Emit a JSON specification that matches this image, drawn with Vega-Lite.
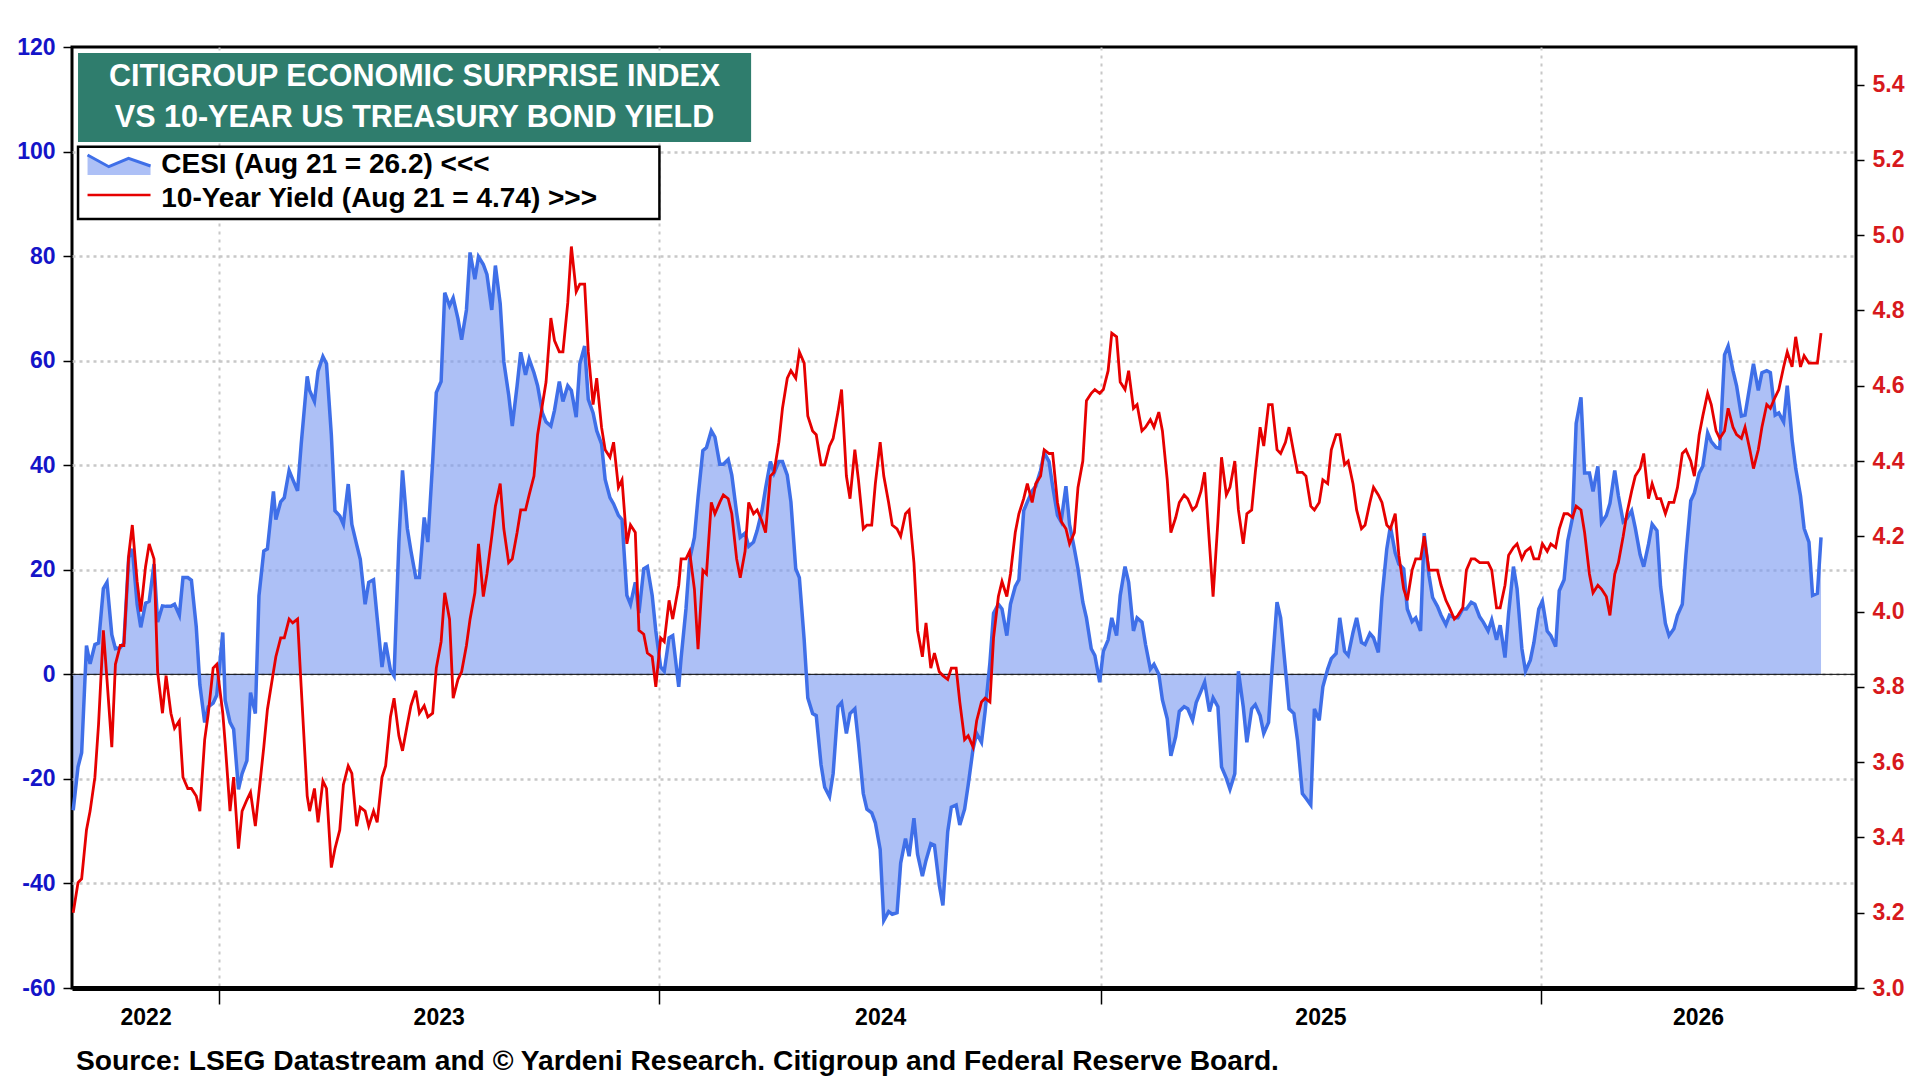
{
  "$schema": "https://vega.github.io/schema/vega-lite/v6.json",
  "width": 1784,
  "height": 941,
  "autosize": "none",
  "padding": {"left": 72, "top": 47, "right": 64, "bottom": 92},
  "background": "white",
  "title": {
    "text": "Source: LSEG Datastream and © Yardeni Research. Citigroup and Federal Reserve Board.",
    "orient": "bottom", "anchor": "start", "frame": "group",
    "font": "Liberation Sans", "fontSize": 28.2, "fontWeight": "bold", "color": "black",
    "offset": 19, "dx": 4
  },
  "data": {
    "format": {"parse": {"date": "date:'%Y-%m-%d'"}},
    "values": [
      {"date": "2022-09-02", "cesi": -26, "yield": 3.20},
      {"date": "2022-09-06", "cesi": -17.7, "yield": 3.28},
      {"date": "2022-09-09", "cesi": -15, "yield": 3.29},
      {"date": "2022-09-13", "cesi": 5.5, "yield": 3.42},
      {"date": "2022-09-16", "cesi": 2, "yield": 3.47},
      {"date": "2022-09-20", "cesi": 5.7, "yield": 3.56},
      {"date": "2022-09-23", "cesi": 6, "yield": 3.70},
      {"date": "2022-09-27", "cesi": 16.4, "yield": 3.95},
      {"date": "2022-09-30", "cesi": 17.6, "yield": 3.82},
      {"date": "2022-10-04", "cesi": 7.6, "yield": 3.64},
      {"date": "2022-10-07", "cesi": 4.9, "yield": 3.86},
      {"date": "2022-10-11", "cesi": 5.1, "yield": 3.91},
      {"date": "2022-10-14", "cesi": 6, "yield": 3.91},
      {"date": "2022-10-18", "cesi": 22.3, "yield": 4.15},
      {"date": "2022-10-21", "cesi": 24, "yield": 4.23},
      {"date": "2022-10-25", "cesi": 13.4, "yield": 4.08},
      {"date": "2022-10-28", "cesi": 9, "yield": 4.00},
      {"date": "2022-11-01", "cesi": 13.6, "yield": 4.12},
      {"date": "2022-11-04", "cesi": 14, "yield": 4.18},
      {"date": "2022-11-08", "cesi": 21.1, "yield": 4.14},
      {"date": "2022-11-11", "cesi": 10, "yield": 3.84},
      {"date": "2022-11-15", "cesi": 13.1, "yield": 3.73},
      {"date": "2022-11-18", "cesi": 13, "yield": 3.83},
      {"date": "2022-11-22", "cesi": 13, "yield": 3.73},
      {"date": "2022-11-25", "cesi": 13.4, "yield": 3.69},
      {"date": "2022-11-29", "cesi": 11.3, "yield": 3.71},
      {"date": "2022-12-02", "cesi": 18.5, "yield": 3.56},
      {"date": "2022-12-06", "cesi": 18.5, "yield": 3.53},
      {"date": "2022-12-09", "cesi": 18, "yield": 3.53},
      {"date": "2022-12-13", "cesi": 9.1, "yield": 3.51},
      {"date": "2022-12-16", "cesi": -2, "yield": 3.47},
      {"date": "2022-12-20", "cesi": -9.2, "yield": 3.66},
      {"date": "2022-12-23", "cesi": -6.2, "yield": 3.73},
      {"date": "2022-12-27", "cesi": -5.5, "yield": 3.85},
      {"date": "2022-12-30", "cesi": -4, "yield": 3.86},
      {"date": "2023-01-04", "cesi": 8, "yield": 3.73},
      {"date": "2023-01-06", "cesi": -5, "yield": 3.65},
      {"date": "2023-01-10", "cesi": -9.2, "yield": 3.47},
      {"date": "2023-01-13", "cesi": -10.5, "yield": 3.56},
      {"date": "2023-01-17", "cesi": -22, "yield": 3.37},
      {"date": "2023-01-20", "cesi": -19, "yield": 3.47},
      {"date": "2023-01-24", "cesi": -16.5, "yield": 3.50},
      {"date": "2023-01-27", "cesi": -3.5, "yield": 3.52},
      {"date": "2023-01-31", "cesi": -7.5, "yield": 3.43},
      {"date": "2023-02-03", "cesi": 15, "yield": 3.52},
      {"date": "2023-02-07", "cesi": 23.6, "yield": 3.64},
      {"date": "2023-02-10", "cesi": 24, "yield": 3.74},
      {"date": "2023-02-15", "cesi": 35, "yield": 3.84},
      {"date": "2023-02-17", "cesi": 29.6, "yield": 3.88},
      {"date": "2023-02-21", "cesi": 33, "yield": 3.93},
      {"date": "2023-02-24", "cesi": 33.8, "yield": 3.93},
      {"date": "2023-02-28", "cesi": 39, "yield": 3.98},
      {"date": "2023-03-03", "cesi": 37.3, "yield": 3.97},
      {"date": "2023-03-07", "cesi": 35.1, "yield": 3.98},
      {"date": "2023-03-10", "cesi": 44, "yield": 3.80},
      {"date": "2023-03-15", "cesi": 57, "yield": 3.51},
      {"date": "2023-03-17", "cesi": 54.3, "yield": 3.47},
      {"date": "2023-03-21", "cesi": 52.2, "yield": 3.53},
      {"date": "2023-03-24", "cesi": 58, "yield": 3.44},
      {"date": "2023-03-28", "cesi": 60.8, "yield": 3.55},
      {"date": "2023-03-31", "cesi": 59.4, "yield": 3.53},
      {"date": "2023-04-04", "cesi": 45.8, "yield": 3.32},
      {"date": "2023-04-07", "cesi": 31.3, "yield": 3.37},
      {"date": "2023-04-11", "cesi": 30.3, "yield": 3.42},
      {"date": "2023-04-14", "cesi": 28.7, "yield": 3.54},
      {"date": "2023-04-18", "cesi": 36.4, "yield": 3.59},
      {"date": "2023-04-21", "cesi": 28.7, "yield": 3.57},
      {"date": "2023-04-25", "cesi": 24.8, "yield": 3.43},
      {"date": "2023-04-28", "cesi": 22, "yield": 3.48},
      {"date": "2023-05-02", "cesi": 13.4, "yield": 3.47},
      {"date": "2023-05-05", "cesi": 17.6, "yield": 3.43},
      {"date": "2023-05-09", "cesi": 18.1, "yield": 3.47},
      {"date": "2023-05-12", "cesi": 10.8, "yield": 3.44},
      {"date": "2023-05-16", "cesi": 1.4, "yield": 3.56},
      {"date": "2023-05-19", "cesi": 6.1, "yield": 3.59},
      {"date": "2023-05-23", "cesi": 0.8, "yield": 3.72},
      {"date": "2023-05-26", "cesi": -0.3, "yield": 3.77},
      {"date": "2023-05-30", "cesi": 25.3, "yield": 3.67},
      {"date": "2023-06-02", "cesi": 39, "yield": 3.63},
      {"date": "2023-06-06", "cesi": 27.9, "yield": 3.70},
      {"date": "2023-06-09", "cesi": 23.6, "yield": 3.75},
      {"date": "2023-06-13", "cesi": 18.5, "yield": 3.79},
      {"date": "2023-06-16", "cesi": 18.5, "yield": 3.73},
      {"date": "2023-06-20", "cesi": 30, "yield": 3.75},
      {"date": "2023-06-23", "cesi": 25.3, "yield": 3.72},
      {"date": "2023-06-27", "cesi": 40.7, "yield": 3.73},
      {"date": "2023-06-30", "cesi": 53.9, "yield": 3.85},
      {"date": "2023-07-04", "cesi": 56, "yield": 3.92},
      {"date": "2023-07-07", "cesi": 73, "yield": 4.05},
      {"date": "2023-07-11", "cesi": 70.5, "yield": 3.98},
      {"date": "2023-07-14", "cesi": 72, "yield": 3.77},
      {"date": "2023-07-18", "cesi": 68, "yield": 3.82},
      {"date": "2023-07-21", "cesi": 64, "yield": 3.84},
      {"date": "2023-07-25", "cesi": 69.7, "yield": 3.91},
      {"date": "2023-07-28", "cesi": 80.7, "yield": 3.98},
      {"date": "2023-08-01", "cesi": 75.6, "yield": 4.05},
      {"date": "2023-08-04", "cesi": 79.9, "yield": 4.18},
      {"date": "2023-08-08", "cesi": 78.4, "yield": 4.04},
      {"date": "2023-08-11", "cesi": 76.5, "yield": 4.10},
      {"date": "2023-08-15", "cesi": 69.7, "yield": 4.20},
      {"date": "2023-08-18", "cesi": 78.2, "yield": 4.28},
      {"date": "2023-08-22", "cesi": 70.9, "yield": 4.34},
      {"date": "2023-08-25", "cesi": 59.8, "yield": 4.22},
      {"date": "2023-08-29", "cesi": 53.5, "yield": 4.13},
      {"date": "2023-09-01", "cesi": 47.5, "yield": 4.14},
      {"date": "2023-09-05", "cesi": 55.2, "yield": 4.21},
      {"date": "2023-09-08", "cesi": 61.6, "yield": 4.27},
      {"date": "2023-09-12", "cesi": 57.3, "yield": 4.27},
      {"date": "2023-09-15", "cesi": 60.3, "yield": 4.31},
      {"date": "2023-09-19", "cesi": 57.7, "yield": 4.36},
      {"date": "2023-09-22", "cesi": 55.2, "yield": 4.47},
      {"date": "2023-09-26", "cesi": 50, "yield": 4.55},
      {"date": "2023-09-29", "cesi": 48.3, "yield": 4.61},
      {"date": "2023-10-03", "cesi": 47.5, "yield": 4.78},
      {"date": "2023-10-06", "cesi": 50.5, "yield": 4.72},
      {"date": "2023-10-10", "cesi": 56, "yield": 4.69},
      {"date": "2023-10-13", "cesi": 52.2, "yield": 4.69},
      {"date": "2023-10-17", "cesi": 55.2, "yield": 4.82},
      {"date": "2023-10-20", "cesi": 54.3, "yield": 4.97},
      {"date": "2023-10-24", "cesi": 49.2, "yield": 4.85},
      {"date": "2023-10-27", "cesi": 59.4, "yield": 4.87},
      {"date": "2023-10-31", "cesi": 62.8, "yield": 4.87},
      {"date": "2023-11-03", "cesi": 52.6, "yield": 4.69},
      {"date": "2023-11-07", "cesi": 50, "yield": 4.55},
      {"date": "2023-11-10", "cesi": 46.6, "yield": 4.62},
      {"date": "2023-11-14", "cesi": 44.1, "yield": 4.49},
      {"date": "2023-11-17", "cesi": 37.3, "yield": 4.43},
      {"date": "2023-11-21", "cesi": 33.8, "yield": 4.41},
      {"date": "2023-11-24", "cesi": 32.6, "yield": 4.45},
      {"date": "2023-11-28", "cesi": 30.4, "yield": 4.33},
      {"date": "2023-12-01", "cesi": 29.6, "yield": 4.35},
      {"date": "2023-12-05", "cesi": 15.1, "yield": 4.18},
      {"date": "2023-12-08", "cesi": 13.4, "yield": 4.23},
      {"date": "2023-12-12", "cesi": 17.6, "yield": 4.21},
      {"date": "2023-12-15", "cesi": 11.7, "yield": 3.95},
      {"date": "2023-12-19", "cesi": 20.2, "yield": 3.94},
      {"date": "2023-12-22", "cesi": 20.6, "yield": 3.89},
      {"date": "2023-12-26", "cesi": 15.1, "yield": 3.88},
      {"date": "2023-12-29", "cesi": 8.3, "yield": 3.80},
      {"date": "2024-01-02", "cesi": 1.4, "yield": 3.93},
      {"date": "2024-01-05", "cesi": 0.6, "yield": 3.92},
      {"date": "2024-01-09", "cesi": 7, "yield": 4.03},
      {"date": "2024-01-12", "cesi": 7.4, "yield": 3.98},
      {"date": "2024-01-17", "cesi": -2.4, "yield": 4.07},
      {"date": "2024-01-19", "cesi": 3.2, "yield": 4.14},
      {"date": "2024-01-23", "cesi": 12.5, "yield": 4.14},
      {"date": "2024-01-26", "cesi": 21.9, "yield": 4.16},
      {"date": "2024-01-30", "cesi": 26.2, "yield": 4.06},
      {"date": "2024-02-02", "cesi": 33.8, "yield": 3.90},
      {"date": "2024-02-06", "cesi": 42.8, "yield": 4.11},
      {"date": "2024-02-09", "cesi": 43.4, "yield": 4.10},
      {"date": "2024-02-13", "cesi": 46.6, "yield": 4.29},
      {"date": "2024-02-16", "cesi": 45.4, "yield": 4.26},
      {"date": "2024-02-20", "cesi": 40.2, "yield": 4.29},
      {"date": "2024-02-23", "cesi": 40.2, "yield": 4.31},
      {"date": "2024-02-27", "cesi": 41.1, "yield": 4.30},
      {"date": "2024-03-01", "cesi": 38.1, "yield": 4.26},
      {"date": "2024-03-05", "cesi": 30.9, "yield": 4.14},
      {"date": "2024-03-08", "cesi": 26.2, "yield": 4.09},
      {"date": "2024-03-12", "cesi": 27, "yield": 4.16},
      {"date": "2024-03-15", "cesi": 24.5, "yield": 4.29},
      {"date": "2024-03-19", "cesi": 25.3, "yield": 4.26},
      {"date": "2024-03-22", "cesi": 27.5, "yield": 4.27},
      {"date": "2024-03-26", "cesi": 31.3, "yield": 4.24},
      {"date": "2024-03-29", "cesi": 35.6, "yield": 4.21},
      {"date": "2024-04-02", "cesi": 40.7, "yield": 4.36},
      {"date": "2024-04-05", "cesi": 38.5, "yield": 4.37},
      {"date": "2024-04-09", "cesi": 40.7, "yield": 4.45},
      {"date": "2024-04-12", "cesi": 40.7, "yield": 4.54},
      {"date": "2024-04-16", "cesi": 38.1, "yield": 4.62},
      {"date": "2024-04-19", "cesi": 33, "yield": 4.64},
      {"date": "2024-04-23", "cesi": 20.2, "yield": 4.62},
      {"date": "2024-04-26", "cesi": 18.5, "yield": 4.69},
      {"date": "2024-04-30", "cesi": 6.6, "yield": 4.66},
      {"date": "2024-05-03", "cesi": -4.5, "yield": 4.52},
      {"date": "2024-05-07", "cesi": -7.5, "yield": 4.48},
      {"date": "2024-05-10", "cesi": -7.9, "yield": 4.47},
      {"date": "2024-05-14", "cesi": -17.3, "yield": 4.39},
      {"date": "2024-05-17", "cesi": -21.6, "yield": 4.39},
      {"date": "2024-05-21", "cesi": -23.4, "yield": 4.44},
      {"date": "2024-05-24", "cesi": -19, "yield": 4.46},
      {"date": "2024-05-28", "cesi": -6.2, "yield": 4.53},
      {"date": "2024-05-31", "cesi": -5.4, "yield": 4.59},
      {"date": "2024-06-04", "cesi": -11.3, "yield": 4.36},
      {"date": "2024-06-07", "cesi": -7.5, "yield": 4.30},
      {"date": "2024-06-11", "cesi": -6.6, "yield": 4.43},
      {"date": "2024-06-14", "cesi": -13, "yield": 4.35},
      {"date": "2024-06-18", "cesi": -22.8, "yield": 4.22},
      {"date": "2024-06-21", "cesi": -25.8, "yield": 4.23},
      {"date": "2024-06-25", "cesi": -26.5, "yield": 4.23},
      {"date": "2024-06-28", "cesi": -28.4, "yield": 4.34},
      {"date": "2024-07-02", "cesi": -33.5, "yield": 4.45},
      {"date": "2024-07-05", "cesi": -47.1, "yield": 4.36},
      {"date": "2024-07-09", "cesi": -45.4, "yield": 4.29},
      {"date": "2024-07-12", "cesi": -45.9, "yield": 4.23},
      {"date": "2024-07-16", "cesi": -45.6, "yield": 4.22},
      {"date": "2024-07-19", "cesi": -36.1, "yield": 4.20},
      {"date": "2024-07-23", "cesi": -31.4, "yield": 4.26},
      {"date": "2024-07-26", "cesi": -34.8, "yield": 4.27},
      {"date": "2024-07-30", "cesi": -27.5, "yield": 4.13},
      {"date": "2024-08-02", "cesi": -34.4, "yield": 3.95},
      {"date": "2024-08-06", "cesi": -38.6, "yield": 3.88},
      {"date": "2024-08-09", "cesi": -35.6, "yield": 3.97},
      {"date": "2024-08-13", "cesi": -32.4, "yield": 3.85},
      {"date": "2024-08-16", "cesi": -32.7, "yield": 3.89},
      {"date": "2024-08-20", "cesi": -40.3, "yield": 3.84},
      {"date": "2024-08-23", "cesi": -44.2, "yield": 3.83},
      {"date": "2024-08-27", "cesi": -30.1, "yield": 3.82},
      {"date": "2024-08-30", "cesi": -25.4, "yield": 3.85},
      {"date": "2024-09-03", "cesi": -25, "yield": 3.85},
      {"date": "2024-09-06", "cesi": -28.8, "yield": 3.76},
      {"date": "2024-09-10", "cesi": -25.8, "yield": 3.66},
      {"date": "2024-09-13", "cesi": -21.1, "yield": 3.67},
      {"date": "2024-09-17", "cesi": -14.3, "yield": 3.64},
      {"date": "2024-09-20", "cesi": -11.3, "yield": 3.71},
      {"date": "2024-09-24", "cesi": -13, "yield": 3.76},
      {"date": "2024-09-27", "cesi": -7.1, "yield": 3.77},
      {"date": "2024-10-01", "cesi": 2.3, "yield": 3.76},
      {"date": "2024-10-04", "cesi": 11.7, "yield": 3.93},
      {"date": "2024-10-08", "cesi": 13.4, "yield": 4.04},
      {"date": "2024-10-11", "cesi": 12.5, "yield": 4.08},
      {"date": "2024-10-15", "cesi": 7.4, "yield": 4.04},
      {"date": "2024-10-18", "cesi": 13.4, "yield": 4.10},
      {"date": "2024-10-22", "cesi": 16.8, "yield": 4.21},
      {"date": "2024-10-25", "cesi": 18.1, "yield": 4.26},
      {"date": "2024-10-29", "cesi": 31.3, "yield": 4.30},
      {"date": "2024-11-01", "cesi": 33, "yield": 4.34},
      {"date": "2024-11-05", "cesi": 35.1, "yield": 4.29},
      {"date": "2024-11-08", "cesi": 36, "yield": 4.34},
      {"date": "2024-11-12", "cesi": 39, "yield": 4.36},
      {"date": "2024-11-15", "cesi": 42.4, "yield": 4.43},
      {"date": "2024-11-19", "cesi": 40.7, "yield": 4.42},
      {"date": "2024-11-22", "cesi": 36, "yield": 4.42},
      {"date": "2024-11-26", "cesi": 30.4, "yield": 4.29},
      {"date": "2024-11-29", "cesi": 29.2, "yield": 4.24},
      {"date": "2024-12-03", "cesi": 36, "yield": 4.22},
      {"date": "2024-12-06", "cesi": 28.7, "yield": 4.18},
      {"date": "2024-12-10", "cesi": 24, "yield": 4.21},
      {"date": "2024-12-13", "cesi": 20.2, "yield": 4.33},
      {"date": "2024-12-17", "cesi": 13.8, "yield": 4.40},
      {"date": "2024-12-20", "cesi": 10.8, "yield": 4.56},
      {"date": "2024-12-24", "cesi": 4.9, "yield": 4.58},
      {"date": "2024-12-27", "cesi": 3.6, "yield": 4.59},
      {"date": "2024-12-31", "cesi": -1.5, "yield": 4.58},
      {"date": "2025-01-03", "cesi": 4.4, "yield": 4.59},
      {"date": "2025-01-07", "cesi": 6.6, "yield": 4.64},
      {"date": "2025-01-10", "cesi": 10.8, "yield": 4.74},
      {"date": "2025-01-14", "cesi": 7.4, "yield": 4.73},
      {"date": "2025-01-17", "cesi": 15.1, "yield": 4.61},
      {"date": "2025-01-21", "cesi": 20.6, "yield": 4.59},
      {"date": "2025-01-24", "cesi": 17.6, "yield": 4.64},
      {"date": "2025-01-28", "cesi": 8.3, "yield": 4.54},
      {"date": "2025-01-31", "cesi": 10.8, "yield": 4.55},
      {"date": "2025-02-04", "cesi": 10, "yield": 4.48},
      {"date": "2025-02-07", "cesi": 5.7, "yield": 4.49},
      {"date": "2025-02-11", "cesi": 1, "yield": 4.51},
      {"date": "2025-02-14", "cesi": 1.9, "yield": 4.49},
      {"date": "2025-02-18", "cesi": 0, "yield": 4.53},
      {"date": "2025-02-21", "cesi": -4.9, "yield": 4.48},
      {"date": "2025-02-25", "cesi": -8.5, "yield": 4.35},
      {"date": "2025-02-28", "cesi": -15.6, "yield": 4.21},
      {"date": "2025-03-04", "cesi": -11.9, "yield": 4.25},
      {"date": "2025-03-07", "cesi": -7.1, "yield": 4.29},
      {"date": "2025-03-11", "cesi": -6.2, "yield": 4.31},
      {"date": "2025-03-14", "cesi": -6.6, "yield": 4.30},
      {"date": "2025-03-18", "cesi": -8.8, "yield": 4.27},
      {"date": "2025-03-21", "cesi": -5.4, "yield": 4.28},
      {"date": "2025-03-25", "cesi": -3.2, "yield": 4.32},
      {"date": "2025-03-28", "cesi": -1.5, "yield": 4.37},
      {"date": "2025-04-01", "cesi": -7.1, "yield": 4.18},
      {"date": "2025-04-04", "cesi": -4.5, "yield": 4.04},
      {"date": "2025-04-08", "cesi": -6.2, "yield": 4.24},
      {"date": "2025-04-11", "cesi": -17.7, "yield": 4.41},
      {"date": "2025-04-15", "cesi": -19.9, "yield": 4.31},
      {"date": "2025-04-18", "cesi": -22, "yield": 4.33},
      {"date": "2025-04-22", "cesi": -19, "yield": 4.40},
      {"date": "2025-04-25", "cesi": 0.6, "yield": 4.27},
      {"date": "2025-04-29", "cesi": -6.2, "yield": 4.18},
      {"date": "2025-05-02", "cesi": -13, "yield": 4.26},
      {"date": "2025-05-06", "cesi": -6.6, "yield": 4.27},
      {"date": "2025-05-09", "cesi": -5.8, "yield": 4.37},
      {"date": "2025-05-13", "cesi": -7.9, "yield": 4.49},
      {"date": "2025-05-16", "cesi": -11.3, "yield": 4.44},
      {"date": "2025-05-20", "cesi": -9.2, "yield": 4.55},
      {"date": "2025-05-23", "cesi": 1.4, "yield": 4.55},
      {"date": "2025-05-27", "cesi": 13.8, "yield": 4.43},
      {"date": "2025-05-30", "cesi": 10.8, "yield": 4.42},
      {"date": "2025-06-03", "cesi": 1, "yield": 4.45},
      {"date": "2025-06-06", "cesi": -6.6, "yield": 4.49},
      {"date": "2025-06-10", "cesi": -7.5, "yield": 4.42},
      {"date": "2025-06-13", "cesi": -12.6, "yield": 4.37},
      {"date": "2025-06-17", "cesi": -22.8, "yield": 4.37},
      {"date": "2025-06-20", "cesi": -23.7, "yield": 4.36},
      {"date": "2025-06-24", "cesi": -25, "yield": 4.28},
      {"date": "2025-06-27", "cesi": -6.6, "yield": 4.27},
      {"date": "2025-07-01", "cesi": -8.8, "yield": 4.29},
      {"date": "2025-07-04", "cesi": -2.4, "yield": 4.35},
      {"date": "2025-07-08", "cesi": 1, "yield": 4.34},
      {"date": "2025-07-11", "cesi": 3, "yield": 4.43},
      {"date": "2025-07-15", "cesi": 4, "yield": 4.47},
      {"date": "2025-07-18", "cesi": 10.8, "yield": 4.47},
      {"date": "2025-07-22", "cesi": 4.4, "yield": 4.39},
      {"date": "2025-07-25", "cesi": 3.6, "yield": 4.40},
      {"date": "2025-07-29", "cesi": 8, "yield": 4.34},
      {"date": "2025-08-01", "cesi": 10.8, "yield": 4.27},
      {"date": "2025-08-05", "cesi": 6.1, "yield": 4.22},
      {"date": "2025-08-08", "cesi": 5.7, "yield": 4.23},
      {"date": "2025-08-12", "cesi": 7.8, "yield": 4.29},
      {"date": "2025-08-15", "cesi": 7, "yield": 4.33},
      {"date": "2025-08-19", "cesi": 4.2, "yield": 4.31},
      {"date": "2025-08-22", "cesi": 14.7, "yield": 4.29},
      {"date": "2025-08-26", "cesi": 24, "yield": 4.23},
      {"date": "2025-08-29", "cesi": 28.3, "yield": 4.22},
      {"date": "2025-09-02", "cesi": 23.2, "yield": 4.26},
      {"date": "2025-09-05", "cesi": 21.1, "yield": 4.15},
      {"date": "2025-09-09", "cesi": 20.2, "yield": 4.06},
      {"date": "2025-09-12", "cesi": 12.5, "yield": 4.03},
      {"date": "2025-09-16", "cesi": 10.1, "yield": 4.11},
      {"date": "2025-09-19", "cesi": 10.8, "yield": 4.14},
      {"date": "2025-09-23", "cesi": 8.3, "yield": 4.14},
      {"date": "2025-09-26", "cesi": 27, "yield": 4.20},
      {"date": "2025-09-30", "cesi": 18.9, "yield": 4.11},
      {"date": "2025-10-03", "cesi": 14.7, "yield": 4.11},
      {"date": "2025-10-07", "cesi": 13, "yield": 4.11},
      {"date": "2025-10-10", "cesi": 11.3, "yield": 4.07},
      {"date": "2025-10-14", "cesi": 9.5, "yield": 4.03},
      {"date": "2025-10-17", "cesi": 11.3, "yield": 4.01},
      {"date": "2025-10-21", "cesi": 10.8, "yield": 3.98},
      {"date": "2025-10-24", "cesi": 10.8, "yield": 3.99},
      {"date": "2025-10-28", "cesi": 12.5, "yield": 4.01},
      {"date": "2025-10-31", "cesi": 12.5, "yield": 4.11},
      {"date": "2025-11-04", "cesi": 13.8, "yield": 4.14},
      {"date": "2025-11-07", "cesi": 13.4, "yield": 4.14},
      {"date": "2025-11-11", "cesi": 11, "yield": 4.13},
      {"date": "2025-11-14", "cesi": 10, "yield": 4.13},
      {"date": "2025-11-18", "cesi": 8.3, "yield": 4.13},
      {"date": "2025-11-21", "cesi": 10.4, "yield": 4.11},
      {"date": "2025-11-25", "cesi": 6.6, "yield": 4.01},
      {"date": "2025-11-28", "cesi": 9.4, "yield": 4.01},
      {"date": "2025-12-02", "cesi": 3.2, "yield": 4.07},
      {"date": "2025-12-05", "cesi": 11.7, "yield": 4.15},
      {"date": "2025-12-09", "cesi": 20.6, "yield": 4.17},
      {"date": "2025-12-12", "cesi": 16.4, "yield": 4.18},
      {"date": "2025-12-16", "cesi": 4.9, "yield": 4.14},
      {"date": "2025-12-19", "cesi": 0.6, "yield": 4.16},
      {"date": "2025-12-23", "cesi": 2.7, "yield": 4.17},
      {"date": "2025-12-26", "cesi": 6.1, "yield": 4.14},
      {"date": "2025-12-30", "cesi": 12.5, "yield": 4.14},
      {"date": "2026-01-02", "cesi": 14, "yield": 4.18},
      {"date": "2026-01-06", "cesi": 8.3, "yield": 4.16},
      {"date": "2026-01-09", "cesi": 7.4, "yield": 4.18},
      {"date": "2026-01-13", "cesi": 5.3, "yield": 4.17},
      {"date": "2026-01-16", "cesi": 16, "yield": 4.22},
      {"date": "2026-01-20", "cesi": 18.1, "yield": 4.26},
      {"date": "2026-01-23", "cesi": 25.5, "yield": 4.26},
      {"date": "2026-01-27", "cesi": 30, "yield": 4.25},
      {"date": "2026-01-30", "cesi": 48, "yield": 4.28},
      {"date": "2026-02-03", "cesi": 53, "yield": 4.27},
      {"date": "2026-02-06", "cesi": 38.5, "yield": 4.21},
      {"date": "2026-02-10", "cesi": 38.5, "yield": 4.10},
      {"date": "2026-02-13", "cesi": 35, "yield": 4.05},
      {"date": "2026-02-17", "cesi": 39.8, "yield": 4.07},
      {"date": "2026-02-20", "cesi": 29, "yield": 4.06},
      {"date": "2026-02-24", "cesi": 30.4, "yield": 4.04},
      {"date": "2026-02-27", "cesi": 32.7, "yield": 3.99},
      {"date": "2026-03-03", "cesi": 39, "yield": 4.10},
      {"date": "2026-03-06", "cesi": 34.2, "yield": 4.13},
      {"date": "2026-03-10", "cesi": 29.2, "yield": 4.20},
      {"date": "2026-03-13", "cesi": 29.8, "yield": 4.26},
      {"date": "2026-03-17", "cesi": 31.3, "yield": 4.32},
      {"date": "2026-03-20", "cesi": 28, "yield": 4.36},
      {"date": "2026-03-24", "cesi": 22.9, "yield": 4.38},
      {"date": "2026-03-27", "cesi": 20.6, "yield": 4.42},
      {"date": "2026-03-31", "cesi": 24.9, "yield": 4.30},
      {"date": "2026-04-03", "cesi": 28.7, "yield": 4.34},
      {"date": "2026-04-07", "cesi": 27.5, "yield": 4.30},
      {"date": "2026-04-10", "cesi": 16.8, "yield": 4.30},
      {"date": "2026-04-14", "cesi": 9.7, "yield": 4.26},
      {"date": "2026-04-17", "cesi": 7.4, "yield": 4.29},
      {"date": "2026-04-21", "cesi": 8.7, "yield": 4.29},
      {"date": "2026-04-24", "cesi": 11.3, "yield": 4.33},
      {"date": "2026-04-28", "cesi": 13.4, "yield": 4.42},
      {"date": "2026-05-01", "cesi": 22.8, "yield": 4.43},
      {"date": "2026-05-05", "cesi": 33.2, "yield": 4.40},
      {"date": "2026-05-08", "cesi": 34.7, "yield": 4.36},
      {"date": "2026-05-12", "cesi": 38.5, "yield": 4.47},
      {"date": "2026-05-15", "cesi": 39.8, "yield": 4.52},
      {"date": "2026-05-19", "cesi": 46.2, "yield": 4.58},
      {"date": "2026-05-22", "cesi": 44.5, "yield": 4.55},
      {"date": "2026-05-26", "cesi": 43.4, "yield": 4.48},
      {"date": "2026-05-29", "cesi": 43.2, "yield": 4.46},
      {"date": "2026-06-02", "cesi": 61.1, "yield": 4.48},
      {"date": "2026-06-05", "cesi": 62.8, "yield": 4.54},
      {"date": "2026-06-09", "cesi": 58.1, "yield": 4.49},
      {"date": "2026-06-12", "cesi": 55.2, "yield": 4.47},
      {"date": "2026-06-16", "cesi": 49.4, "yield": 4.46},
      {"date": "2026-06-19", "cesi": 49.6, "yield": 4.49},
      {"date": "2026-06-23", "cesi": 55.2, "yield": 4.43},
      {"date": "2026-06-26", "cesi": 59.4, "yield": 4.38},
      {"date": "2026-06-30", "cesi": 54.3, "yield": 4.43},
      {"date": "2026-07-03", "cesi": 57.7, "yield": 4.49},
      {"date": "2026-07-07", "cesi": 58.1, "yield": 4.55},
      {"date": "2026-07-10", "cesi": 57.7, "yield": 4.54},
      {"date": "2026-07-14", "cesi": 49.6, "yield": 4.57},
      {"date": "2026-07-17", "cesi": 50, "yield": 4.59},
      {"date": "2026-07-21", "cesi": 48.3, "yield": 4.65},
      {"date": "2026-07-24", "cesi": 55.2, "yield": 4.69},
      {"date": "2026-07-28", "cesi": 44.9, "yield": 4.65},
      {"date": "2026-07-31", "cesi": 39.4, "yield": 4.73},
      {"date": "2026-08-04", "cesi": 34.1, "yield": 4.65},
      {"date": "2026-08-07", "cesi": 27.9, "yield": 4.68},
      {"date": "2026-08-11", "cesi": 25.3, "yield": 4.66},
      {"date": "2026-08-14", "cesi": 15.1, "yield": 4.66},
      {"date": "2026-08-18", "cesi": 15.5, "yield": 4.66},
      {"date": "2026-08-21", "cesi": 26.2, "yield": 4.74}
    ]
  },
  "layer": [
    {
      "layer": [
        {
          "mark": {"type": "area", "color": "#7A9AF0", "opacity": 0.62},
          "encoding": {
            "x": {
              "field": "date", "type": "temporal",
              "scale": {"domain": [{"year": 2022, "month": 9, "date": 1}, {"year": 2026, "month": 9, "date": 19}], "nice": false},
              "axis": {
                "title": null,
                "values": [
                  {"year": 2022, "month": 11, "date": 1},
                  {"year": 2023, "month": 1, "date": 1},
                  {"year": 2023, "month": 7, "date": 2},
                  {"year": 2024, "month": 1, "date": 1},
                  {"year": 2024, "month": 7, "date": 2},
                  {"year": 2025, "month": 1, "date": 1},
                  {"year": 2025, "month": 7, "date": 2},
                  {"year": 2026, "month": 1, "date": 1},
                  {"year": 2026, "month": 5, "date": 11}
                ],
                "labelExpr": "month(datum.value) == 0 && date(datum.value) == 1 ? '' : timeFormat(datum.value, '%Y')",
                "grid": true,
                "gridColor": "#c8c8c8",
                "gridDash": [3, 5],
                "gridWidth": 2,
                "gridOpacity": {"condition": {"test": "month(datum.value) == 0 && date(datum.value) == 1", "value": 1}, "value": 0},
                "ticks": true,
                "tickSize": 16,
                "tickColor": "black",
                "tickWidth": 1.5,
                "tickOpacity": {"condition": {"test": "month(datum.value) == 0 && date(datum.value) == 1", "value": 1}, "value": 0},
                "domain": true,
                "domainColor": "black",
                "domainWidth": 5,
                "labelColor": "black",
                "labelFontSize": 23,
                "labelFontWeight": "bold",
                "labelPadding": 2,
                "labelFlush": false,
                "labelOverlap": false,
                "labelBound": false
              }
            },
            "y": {
              "field": "cesi", "type": "quantitative",
              "scale": {"domain": [-60, 120], "nice": false, "zero": false},
              "axis": {
                "title": null,
                "orient": "left",
                "values": [-60, -40, -20, 0, 20, 40, 60, 80, 100, 120],
                "labelExpr": "toString(datum.value)",
                "domain": false,
                "ticks": true,
                "tickSize": 9,
                "tickColor": "black",
                "tickWidth": 1.5,
                "labelColor": "#1414C8",
                "labelFontSize": 23,
                "labelFontWeight": "bold",
                "labelPadding": 8,
                "grid": true,
                "gridColor": "#c8c8c8",
                "gridDash": [3, 4],
                "gridWidth": 2.5,
                "gridOpacity": {"condition": {"test": "datum.value == 120 || datum.value == -60", "value": 0}, "value": 1}
              }
            },
            "y2": {"datum": 0}
          }
        },
        {
          "data": {"values": [{}]},
          "mark": {"type": "rule", "color": "black", "strokeWidth": 1},
          "encoding": {"y": {"datum": 0}}
        },
        {
          "mark": {"type": "line", "color": "#3F6FE8", "strokeWidth": 3.5},
          "encoding": {
            "x": {"field": "date", "type": "temporal"},
            "y": {"field": "cesi", "type": "quantitative"}
          }
        },
        {
          "data": {"values": [{}]},
          "mark": {"type": "rect", "color": "#2F7D6D"},
          "encoding": {
            "x": {"datum": {"year": 2022, "month": 9, "date": 6}},
            "x2": {"datum": {"year": 2024, "month": 3, "date": 17}},
            "y": {"datum": 118.85},
            "y2": {"datum": 101.83}
          }
        },
        {
          "data": {"values": [{}]},
          "mark": {"type": "text", "text": "CITIGROUP ECONOMIC SURPRISE INDEX", "font": "Liberation Sans", "fontSize": 30.5, "fontWeight": "bold", "color": "white", "align": "center", "baseline": "alphabetic"},
          "encoding": {
            "x": {"datum": {"year": 2023, "month": 6, "date": 12}},
            "y": {"datum": 112.6}
          }
        },
        {
          "data": {"values": [{}]},
          "mark": {"type": "text", "text": "VS 10-YEAR US TREASURY BOND YIELD", "font": "Liberation Sans", "fontSize": 30.5, "fontWeight": "bold", "color": "white", "align": "center", "baseline": "alphabetic"},
          "encoding": {
            "x": {"datum": {"year": 2023, "month": 6, "date": 12}},
            "y": {"datum": 104.75}
          }
        },
        {
          "data": {"values": [{}]},
          "mark": {"type": "rect", "fill": "white", "stroke": "black", "strokeWidth": 2.5},
          "encoding": {
            "x": {"datum": {"year": 2022, "month": 9, "date": 6}},
            "x2": {"datum": {"year": 2024, "month": 1, "date": 1}},
            "y": {"datum": 100.93},
            "y2": {"datum": 87.1}
          }
        },
        {
          "data": {"values": [{}]},
          "mark": {"type": "point", "shape": "M-1,-0.317L-0.324,0.054L0.302,-0.213L1,0.032L1,0.317L-1,0.317Z", "size": 3969, "filled": true, "color": "#7A9AF0", "opacity": 0.62, "strokeWidth": 0},
          "encoding": {
            "x": {"datum": {"year": 2022, "month": 10, "date": 10}},
            "y": {"datum": 97.43}
          }
        },
        {
          "data": {"values": [{}]},
          "mark": {"type": "point", "shape": "M-1,-0.317L-0.324,0.054L0.302,-0.213L1,0.032", "size": 3969, "filled": false, "color": "#3F6FE8", "opacity": 1, "strokeWidth": 3},
          "encoding": {
            "x": {"datum": {"year": 2022, "month": 10, "date": 10}},
            "y": {"datum": 97.43}
          }
        },
        {
          "data": {"values": [{}]},
          "mark": {"type": "point", "shape": "M-1,0L1,0", "size": 3969, "filled": false, "color": "#E60000", "opacity": 1, "strokeWidth": 2.5},
          "encoding": {
            "x": {"datum": {"year": 2022, "month": 10, "date": 10}},
            "y": {"datum": 91.69}
          }
        },
        {
          "data": {"values": [{}]},
          "mark": {"type": "text", "text": "CESI (Aug 21 = 26.2) <<<", "font": "Liberation Sans", "fontSize": 28, "fontWeight": "bold", "color": "black", "align": "left", "baseline": "alphabetic"},
          "encoding": {
            "x": {"datum": {"year": 2022, "month": 11, "date": 14}},
            "y": {"datum": 95.9}
          }
        },
        {
          "data": {"values": [{}]},
          "mark": {"type": "text", "text": "10-Year Yield (Aug 21 = 4.74) >>>", "font": "Liberation Sans", "fontSize": 28, "fontWeight": "bold", "color": "black", "align": "left", "baseline": "alphabetic"},
          "encoding": {
            "x": {"datum": {"year": 2022, "month": 11, "date": 14}},
            "y": {"datum": 89.45}
          }
        }
      ]
    },
    {
      "mark": {"type": "line", "color": "#E60000", "strokeWidth": 2.8},
      "encoding": {
        "x": {"field": "date", "type": "temporal"},
        "y": {
          "field": "yield", "type": "quantitative",
          "scale": {"domain": [3.0, 5.5], "nice": false, "zero": false},
          "axis": {
            "title": null,
            "orient": "right",
            "values": [3.0, 3.2, 3.4, 3.6, 3.8, 4.0, 4.2, 4.4, 4.6, 4.8, 5.0, 5.2, 5.4],
            "format": ".1f",
            "domain": false,
            "grid": false,
            "ticks": true,
            "tickSize": 8,
            "tickColor": "black",
            "tickWidth": 1.5,
            "labelColor": "#D7191C",
            "labelFontSize": 23,
            "labelFontWeight": "bold",
            "labelPadding": 8
          }
        }
      }
    }
  ],
  "resolve": {"scale": {"y": "independent"}},
  "config": {
    "font": "Liberation Sans",
    "view": {"stroke": "black", "strokeWidth": 3},
    "axis": {"labelFont": "Liberation Sans", "titleFont": "Liberation Sans"}
  }
}
